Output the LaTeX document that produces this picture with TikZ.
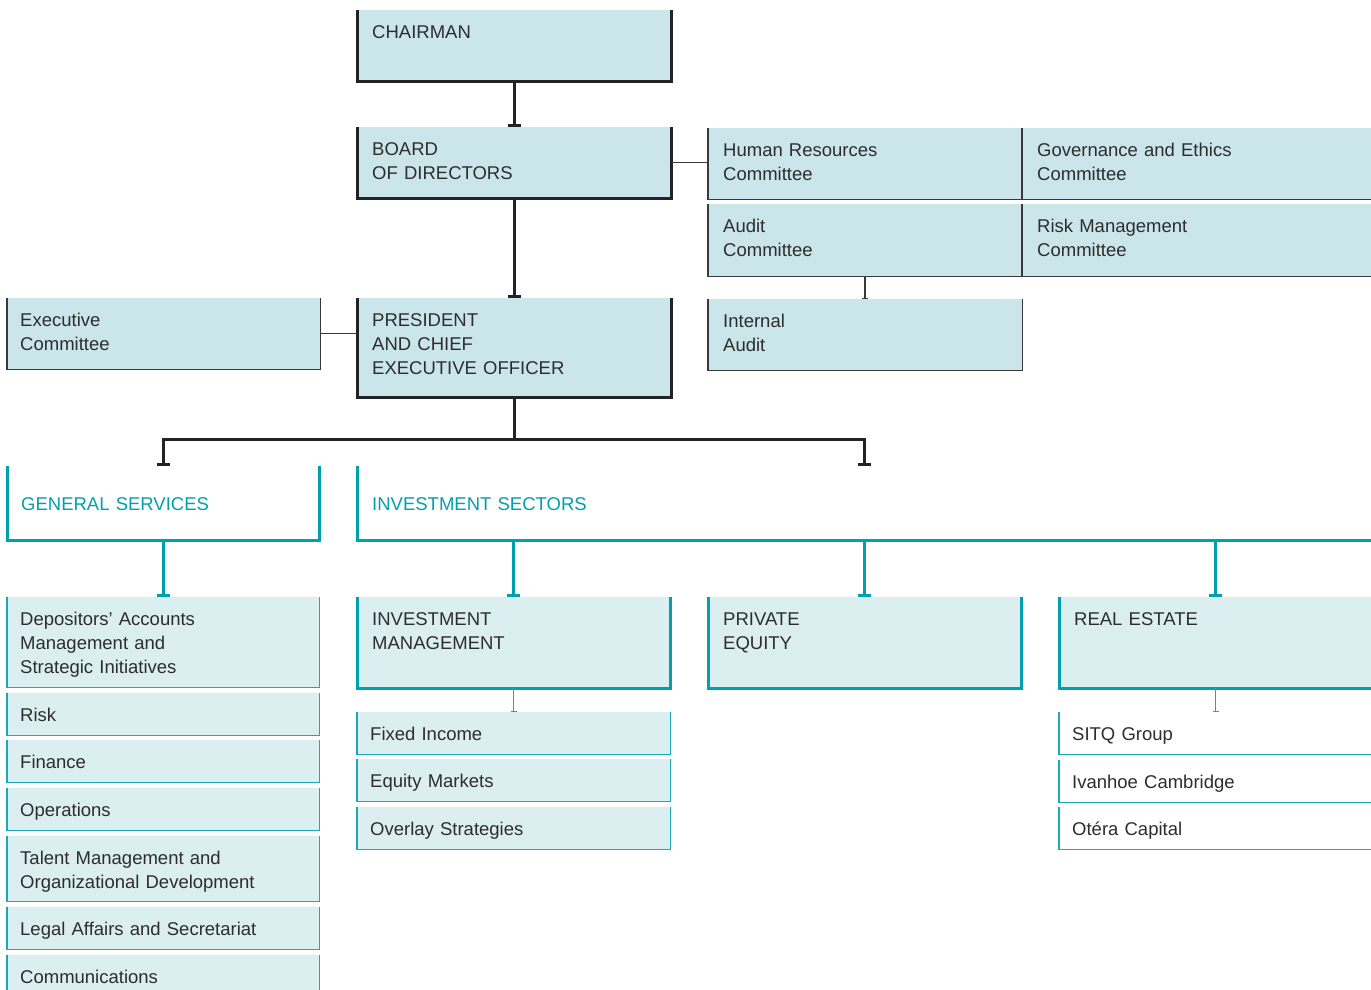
\documentclass[tikz,border=0pt]{standalone}
\usepackage{fontspec}
\setmainfont{Liberation Sans}
\usetikzlibrary{arrows.meta}

\definecolor{topfill}{RGB}{202,230,235}
\definecolor{subfill}{RGB}{219,238,240}
\definecolor{seateal}{RGB}{0,160,172}
\definecolor{inkgray}{RGB}{45,45,45}
\definecolor{linegray}{RGB}{35,35,35}

\begin{document}
\begin{tikzpicture}[x=1pt,y=-1pt,
  every node/.style={anchor=north west,inner xsep=15pt,inner ysep=0pt,
    text height=28pt,align=left,text=inkgray,
    font=\fontsize{18.5}{24}\selectfont},
  unit/.style={fill=topfill,text width=284pt,text depth=43pt},
  branch/.style={fill=white,text=seateal,text height=44pt,text depth=30pt},
  sector/.style={fill=subfill,text width=283pt,text depth=63pt},
  dept/.style={fill=subfill,inner xsep=13pt,text width=286pt,text depth=14pt},
  sub/.style={fill=white,inner xsep=13pt,text width=287pt,text depth=14pt},
  thickdark/.style={line width=3pt,draw=linegray},
  thindark/.style={line width=1.5pt,draw=linegray!90},
  thickteal/.style={line width=3pt,draw=seateal},
  thinteal/.style={line width=1.5pt,draw=seateal!90}
]
\clip (0,0) rectangle (1371,990);

% governance
\node[unit] (chair) at (357,10) {CHAIRMAN};
\node[unit] (board) at (357,127) {BOARD\\OF DIRECTORS};
\node[unit,text depth=71pt] (pres) at (357,298) {PRESIDENT\\AND CHIEF\\EXECUTIVE OFFICER};
\node[unit,inner xsep=13pt,text width=287pt] (exec) at (7,298) {Executive\\Committee};

% committees
\node[unit] (hr) at (708,128) {Human Resources\\Committee};
\node[unit,text width=322pt] (gov) at (1022,128) {Governance and Ethics\\Committee};
\node[unit,text depth=44pt] (audit) at (708,204) {Audit\\Committee};
\node[unit,text depth=44pt,text width=322pt] (riskm) at (1022,204) {Risk Management\\Committee};
\node[unit] (intaudit) at (708,299) {Internal\\Audit};

% two branches
\node[branch,inner xsep=14pt,text width=284pt] (gs) at (7,466) {GENERAL SERVICES};
\node[branch,text width=985pt] (is) at (357,466) {INVESTMENT SECTORS};

% general services
\node[dept,text depth=62pt] (dep) at (7,597) {Depositors’ Accounts\\Management and\\Strategic Initiatives};
\node[dept] (risk) at (7,693) {Risk};
\node[dept] (fin) at (7,740) {Finance};
\node[dept] (ops) at (7,788) {Operations};
\node[dept,text depth=37pt] (talent) at (7,836) {Talent Management and\\Organizational Development};
\node[dept] (legal) at (7,907) {Legal Affairs and Secretariat};
\node[dept] (comm) at (7,955) {Communications};

% investment sectors
\node[sector] (im) at (357,597) {INVESTMENT\\MANAGEMENT};
\node[sector] (pe) at (708,597) {PRIVATE\\EQUITY};
\node[sector] (re) at (1059,597) {REAL ESTATE};
\node[dept,text width=287pt] (fixed) at (357,712) {Fixed Income};
\node[dept,text width=287pt] (equity) at (357,759) {Equity Markets};
\node[dept,text width=287pt] (overlay) at (357,807) {Overlay Strategies};
\node[sub] (sitq) at (1059,712) {SITQ Group};
\node[sub] (ivan) at (1059,760) {Ivanhoe Cambridge};
\node[sub] (otera) at (1059,807) {Otéra Capital};

% box borders (open at the top)
\foreach \n in {chair,board,pres}
  \draw[thickdark] (\n.north west) |- (\n.south east) -- (\n.north east);
\foreach \n in {exec,hr,audit,intaudit}
  \draw[thindark] (\n.north west) |- (\n.south east) -- (\n.north east);
\foreach \n in {gov,riskm}
  \draw[thindark] (\n.north west) |- (\n.south east);
\foreach \n in {gs,im,pe}
  \draw[thickteal] (\n.north west) |- (\n.south east) -- (\n.north east);
\foreach \n in {is,re}
  \draw[thickteal] (\n.north west) |- (\n.south east);
\foreach \n in {dep,risk,fin,ops,talent,legal,comm,fixed,equity,overlay}
  \draw[thinteal] (\n.north west) |- (\n.south east) -- (\n.north east);
\foreach \n in {sitq,ivan,otera}
  \draw[thinteal] (\n.north west) |- (\n.south east);

% connectors
\coordinate (split) at ([yshift=-42pt]pres.south);
\draw[thickdark,-{Bar[width=13pt]}] (chair.south) -- (board.north);
\draw[thickdark,-{Bar[width=13pt]}] (board.south) -- (pres.north);
\draw[thickdark] (pres.south) -- (split);
\draw[thickdark,-{Bar[width=13pt]}] (split) -| (gs.north);
\draw[thickdark,-{Bar[width=13pt]}] (split) -| (is.north -| pe.north);
\draw[thindark] (board.east) -- (board.east -| hr.west);
\draw[thindark] (exec.east) -- (exec.east -| pres.west);
\draw[thindark,-{Bar[width=6pt]}] (audit.south) -- (intaudit.north);

\draw[thickteal,-{Bar[width=13pt]}] (gs.south) -- (dep.north);
\foreach \n in {im,pe,re}
  \draw[thickteal,-{Bar[width=13pt]}] (is.south -| \n.north) -- (\n.north);
\draw[thinteal,-{Bar[width=6pt]}] (im.south) -- (fixed.north);
\draw[thinteal,-{Bar[width=6pt]}] (re.south) -- (sitq.north);

\end{tikzpicture}
\end{document}
